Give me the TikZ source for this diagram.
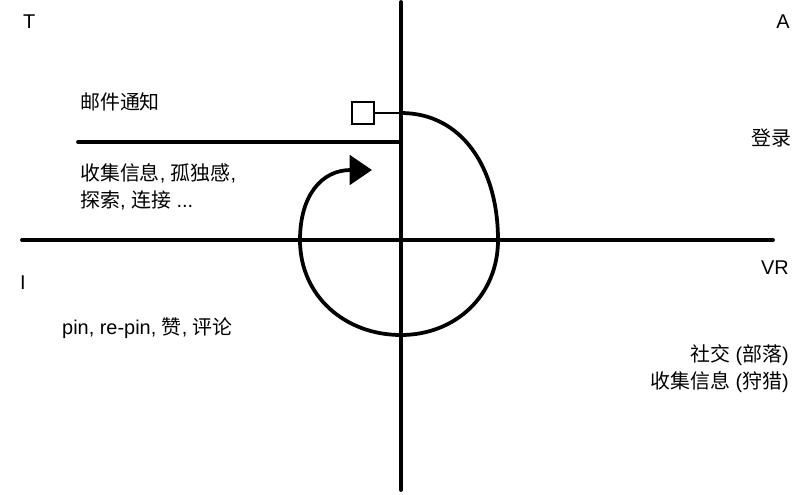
\documentclass[tikz,border=0pt]{standalone}
\usepackage{fontspec}
\setmainfont{Liberation Sans}
\newfontfamily\cjk{Noto Sans CJK SC}
\newcommand{\zh}[1]{{\cjk #1}}
\usetikzlibrary{arrows.meta}

\tikzset{
  axis/.style={line width=3.2pt, line cap=round},
  tag/.style={font=\fontsize{17pt}{20pt}\selectfont, inner sep=0pt},
  note/.style={font=\fontsize{17pt}{23pt}\selectfont, inner sep=0pt, align=left},
}

\begin{document}
\begin{tikzpicture}[x=0.03cm,y=-0.03cm]
\useasboundingbox (0,0) rectangle (810,494);

% draw axes
\coordinate (top) at (401,2);
\coordinate (bottom) at (401,490);
\coordinate (left) at (22,240);
\coordinate (right) at (773,240);
\draw[axis] (top) -- (bottom);
\draw[axis] (left) -- (right);

% draw divider in T quadrant
\coordinate (divL) at (78,142);
\coordinate (divR) at (401,142);
\draw[axis] (divL) -- (divR);

% corner letters
\node[tag,anchor=west] (T) at (23,22) {T};
\node[tag,anchor=east] (A) at (790,22) {A};
\node[tag,anchor=west] (I) at (20,283) {I};
\node[tag,anchor=east] (VR) at (789,268) {VR};

% quadrant notes
\node[tag,anchor=west] (mail) at (80,102) {\zh{邮件通知}};
\node[note,anchor=west] (collect) at (80,187) {\zh{收集信息}, \zh{孤独感},\\\zh{探索}, \zh{连接} ...};
\node[tag,anchor=east] (login) at (792,138) {\zh{登录}};
\node[tag,anchor=west] (pin) at (62,328) {pin, re-pin, \zh{赞}, \zh{评论}};
\node[note,anchor=east,align=right] (social) at (789,369) {\zh{社交} (\zh{部落})\\\zh{收集信息} (\zh{狩猎})};

% draw loop
\node[draw,line width=2pt,minimum size=0.66cm,inner sep=0pt] (box) at (363,113) {};
\coordinate (start) at (401,113);
\draw[line width=2pt] (box.east) -- (start);
\draw[axis,-{Triangle[length=19pt,width=25pt]}] (start)
  .. controls (462,113) and (498,168) .. (498,240)
  .. controls (498,296) and (455,335) .. (401,335)
  .. controls (345,335) and (300,296) .. (300,240)
  .. controls (300,195) and (322,170) .. (372,170);

\end{tikzpicture}
\end{document}
